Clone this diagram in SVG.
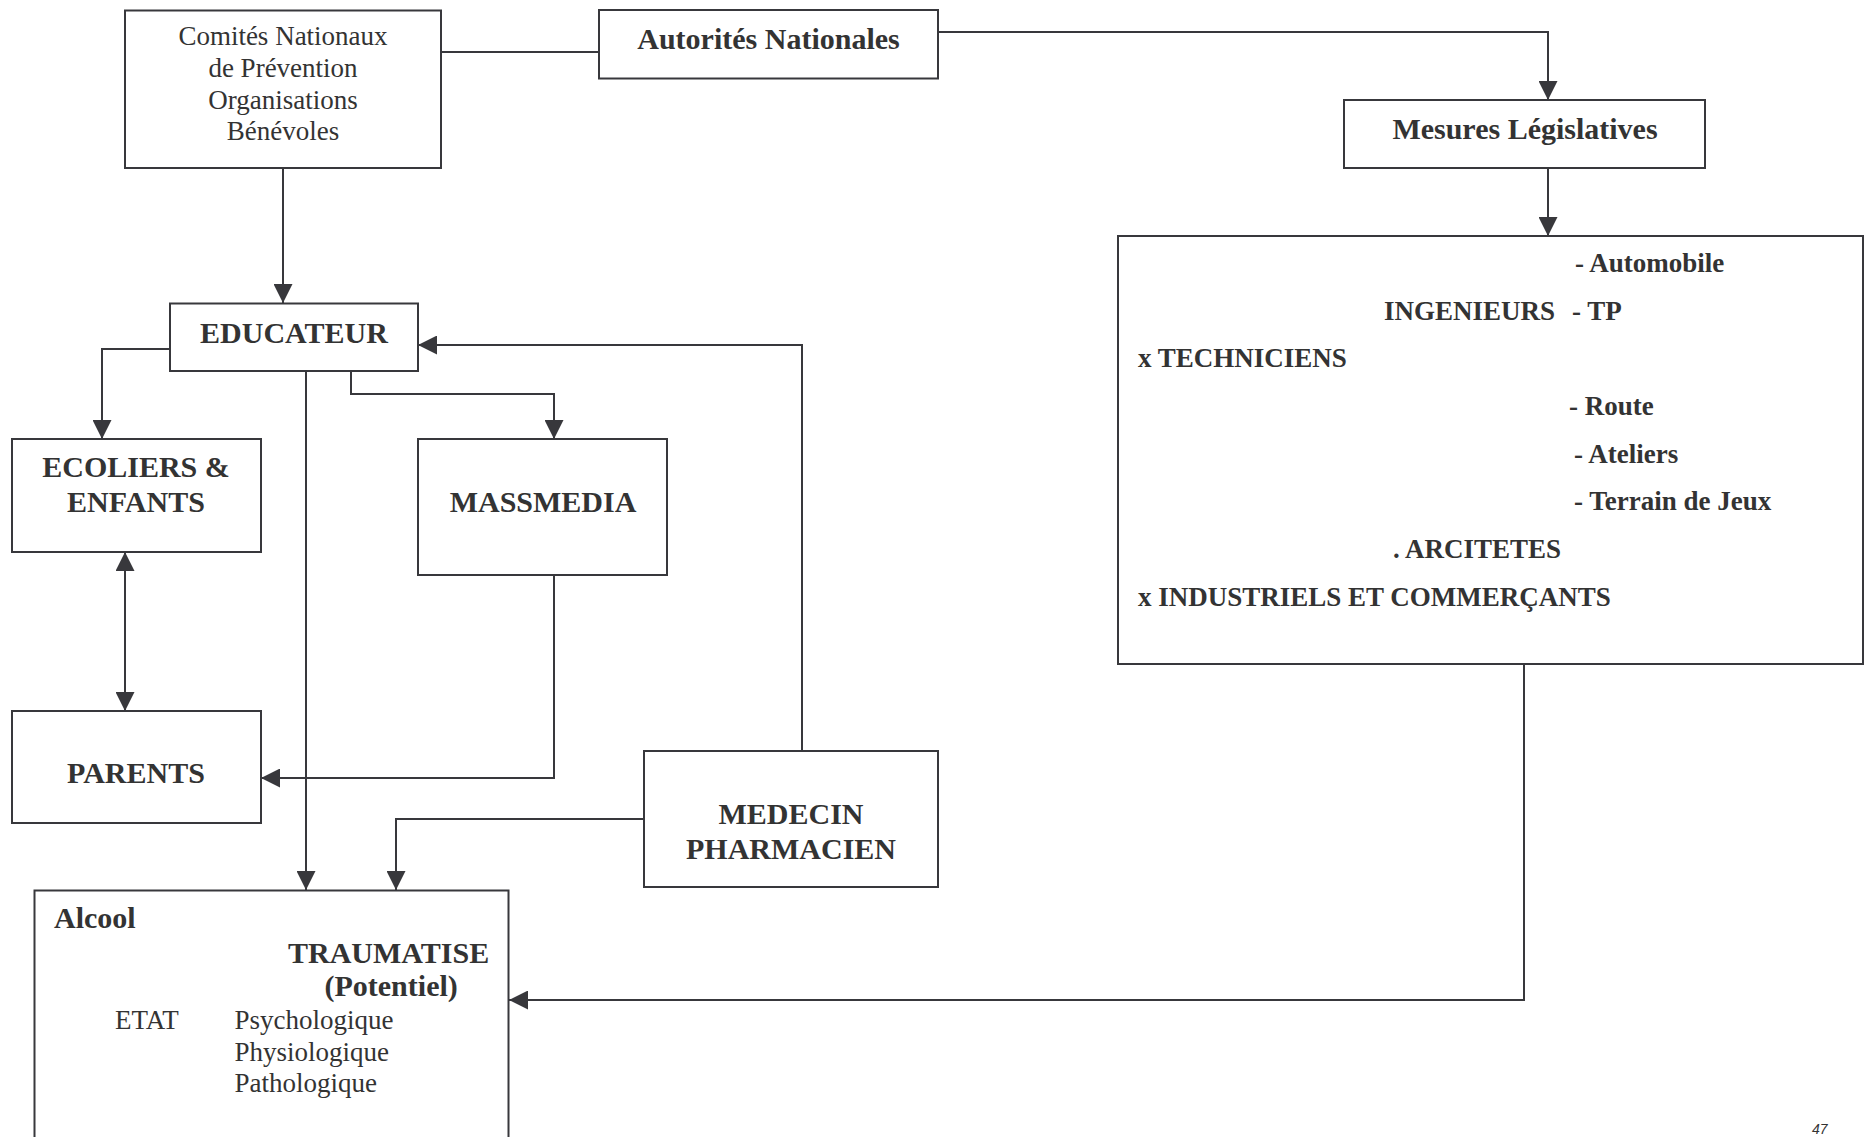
<svg xmlns="http://www.w3.org/2000/svg" width="1867" height="1137" viewBox="0 0 1867 1137">
<style>
.box{fill:#fff;stroke:#38383c;stroke-width:2}
.ln{fill:none;stroke:#38383c;stroke-width:2}
.t{font-family:"Liberation Serif","Times New Roman",serif;fill:#333;}
.b{font-weight:bold;font-size:30px}
.r{font-size:27px}
.bb{font-weight:bold;font-size:27px}
.c{text-anchor:middle}
</style>
<defs>
<marker id="ah" markerUnits="userSpaceOnUse" markerWidth="19" markerHeight="19" refX="19" refY="9.5" orient="auto-start-reverse" viewBox="0 0 19 19">
<path d="M0,0 L19,9.5 L0,19 z" fill="#38383c"/>
</marker>
</defs>
<rect width="1867" height="1137" fill="#fff"/>
<g id="connectors">
<path class="ln" d="M441,52 H599"/>
<path class="ln" d="M938,32 H1548 V100" marker-end="url(#ah)"/>
<path class="ln" d="M1548,168 V236" marker-end="url(#ah)"/>
<path class="ln" d="M283,168 V303" marker-end="url(#ah)"/>
<path class="ln" d="M170,349 H102 V439" marker-end="url(#ah)"/>
<path class="ln" d="M125,552 V711" marker-start="url(#ah)" marker-end="url(#ah)"/>
<path class="ln" d="M306,371 V890" marker-end="url(#ah)"/>
<path class="ln" d="M351,371 V394 H554 V439" marker-end="url(#ah)"/>
<path class="ln" d="M554,575 V778 H261" marker-end="url(#ah)"/>
<path class="ln" d="M802,751 V345 H418" marker-end="url(#ah)"/>
<path class="ln" d="M644,819 H396 V890" marker-end="url(#ah)"/>
<path class="ln" d="M1524,664 V1000 H509" marker-end="url(#ah)"/>
</g>
<g id="comites">
<rect class="box" x="125" y="10.5" width="316" height="157.5"/>
<text class="t r c" x="283" y="45">Comités Nationaux</text>
<text class="t r c" x="283" y="77">de Prévention</text>
<text class="t r c" x="283" y="108.5">Organisations</text>
<text class="t r c" x="283" y="140">Bénévoles</text>
</g>
<g id="autorites">
<rect class="box" x="599" y="10" width="339" height="68.5"/>
<text class="t b c" x="768.5" y="49">Autorités Nationales</text>
</g>
<g id="mesures">
<rect class="box" x="1344" y="100" width="361" height="68"/>
<text class="t b c" x="1525" y="139">Mesures Législatives</text>
</g>
<g id="techniciens">
<rect class="box" x="1118" y="236" width="745" height="428"/>
<text class="t bb" x="1575" y="272">- Automobile</text>
<text class="t bb" x="1384" y="320">INGENIEURS</text>
<text class="t bb" x="1572" y="320">- TP</text>
<text class="t bb" x="1138" y="367">x TECHNICIENS</text>
<text class="t bb" x="1569" y="415">- Route</text>
<text class="t bb" x="1574" y="463">- Ateliers</text>
<text class="t bb" x="1574" y="510">- Terrain de Jeux</text>
<text class="t bb" x="1393" y="558">. ARCITETES</text>
<text class="t bb" x="1138" y="606">x INDUSTRIELS ET COMMERÇANTS</text>
</g>
<g id="educateur">
<rect class="box" x="170" y="303.5" width="248" height="67.5"/>
<text class="t b c" x="294" y="343">EDUCATEUR</text>
</g>
<g id="ecoliers">
<rect class="box" x="12" y="439" width="249" height="113"/>
<text class="t b c" x="136" y="477">ECOLIERS &amp;</text>
<text class="t b c" x="136" y="512">ENFANTS</text>
</g>
<g id="massmedia">
<rect class="box" x="418" y="439" width="249" height="136"/>
<text class="t b c" x="543" y="512">MASSMEDIA</text>
</g>
<g id="parents">
<rect class="box" x="12" y="711" width="249" height="112"/>
<text class="t b c" x="136" y="783">PARENTS</text>
</g>
<g id="medecin">
<rect class="box" x="644" y="751" width="294" height="136"/>
<text class="t b c" x="791" y="824">MEDECIN</text>
<text class="t b c" x="791" y="859">PHARMACIEN</text>
</g>
<g id="traumatise">
<rect class="box" x="34.5" y="890.5" width="474" height="270"/>
<text class="t b" x="54" y="928">Alcool</text>
<text class="t b" x="288" y="963">TRAUMATISE</text>
<text class="t b" x="324.5" y="996">(Potentiel)</text>
<text class="t r" x="115" y="1029">ETAT</text>
<text class="t r" x="234.5" y="1029">Psychologique</text>
<text class="t r" x="234.5" y="1061">Physiologique</text>
<text class="t r" x="234.5" y="1092">Pathologique</text>
</g>
<text x="1812" y="1134" font-family="Liberation Sans, Arial, sans-serif" font-style="italic" font-size="14" fill="#333">47</text>
</svg>
